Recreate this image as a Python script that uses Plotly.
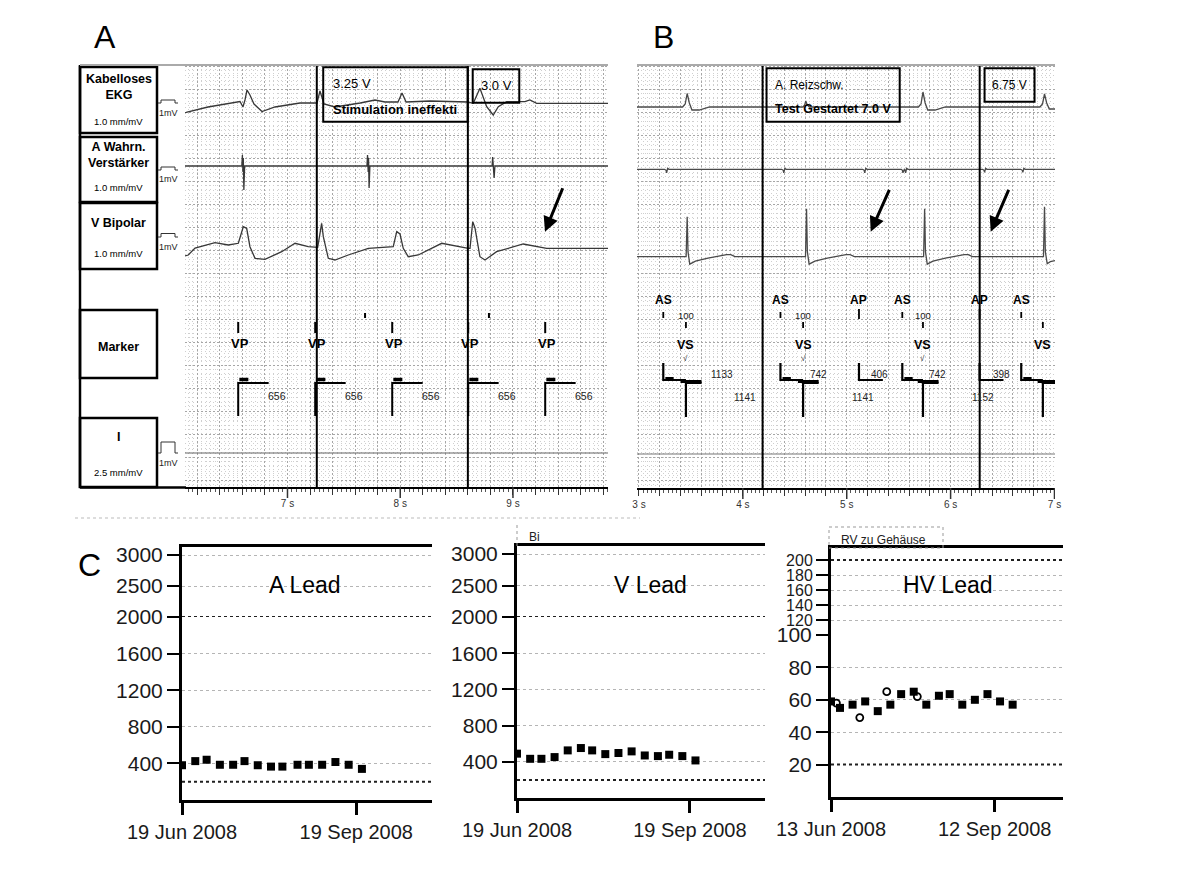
import plotly.graph_objects as go

W, H = 1181, 886
FONT = "Arial, Liberation Sans, sans-serif"

# ======================= DATA =======================
# ---- Panel A strip (time in s, amplitude in strip units, + = upward)
a_time_range = [6.091, 9.843]
a_ekg_t = [6.091, 6.11, 6.295, 6.508, 6.579, 6.605, 6.623, 6.641, 6.667, 6.703, 6.774, 6.889, 7.111,
           7.262, 7.288, 7.324, 7.421, 7.645, 7.776, 7.865, 7.98, 8.016, 8.052, 8.264, 8.60, 8.648,
           8.707, 8.767, 8.825, 8.87, 8.944, 9.106, 9.15, 9.21, 9.843]
a_ekg_v = [-9, -8, -3, 1.3, 2.5, -3, 4, 14, 9, 0, -7.5, -3, 1,
           1, 13, 0, -3, 1, 4, 2, 2, 11, 2, 3, 2, 0.7,
           15.7, -2.7, -11, -2.7, 2.3, 2.3, 4, 0.7, 0.7]
a_atr_t = [6.091, 6.595, 6.600, 6.605, 6.608, 6.613, 6.62, 7.705, 7.71, 7.716, 7.719, 7.724, 7.731,
           8.815, 8.82, 8.825, 8.828, 8.833, 8.84, 9.843]
a_atr_v = [0, 0, 11, -6, 8, -24, 0, 0, 11, -6, 8, -22, 0,
           0, 9, -4, 5, -12, 0, 0]
a_vent_t = [6.091, 6.12, 6.18, 6.357, 6.475, 6.564, 6.608, 6.638, 6.667, 6.712, 6.8, 6.949, 7.067,
            7.184, 7.268, 7.303, 7.318, 7.362, 7.421, 7.539, 7.717, 7.938, 7.969, 7.998, 8.027,
            8.071, 8.16, 8.368, 8.604, 8.619, 8.643, 8.663, 8.707, 8.752, 8.855, 9.091, 9.299, 9.843]
a_vent_v = [-8, -7, 0, 5.3, 3, 4.7, 21.3, 19.7, 1.3, -10.3, -11.3, -3.7, 4.7,
            1.3, 0.7, 24.7, 11.3, -10.3, -12, -7, -0.3, 1.3, 16.3, 14, -0.3,
            -8.7, -7, 4.7, -0.3, -0.3, 26.3, 20, -8.7, -12, -3.7, 4, -0.3, -0.3]
a_lead1_t = [6.091, 9.843]
a_lead1_v = [0, 0]
a_threshold_times = [7.26, 8.60]
a_vp_times = [6.563, 7.246, 7.929, 8.603, 9.286]
a_vp_labels = ["VP", "VP", "VP", "VP", "VP"]
a_vp_intervals = ["656", "656", "656", "656", "656"]
a_small_mark_times = [7.688, 8.787]
a_channel_names = ["<b>Kabelloses<br>EKG</b>", "<b>A Wahrn.<br>Verstärker</b>", "<b>V Bipolar</b>",
                   "<b>Marker</b>", "<b>I</b>"]
a_channel_gain = ["1.0 mm/mV", "1.0 mm/mV", "1.0 mm/mV", "", "2.5 mm/mV"]
a_box_texts = [["3.25 V", "<b>Stimulation ineffekti</b>"], ["3.0 V"]]

# ---- Panel B strip
b_time_range = [2.981, 7.005]
b_ekg_t = [2.981, 3.42, 3.445, 3.464, 3.485, 3.51, 3.58, 3.64, 3.68,
           4.58, 4.595, 4.606, 4.62, 4.64,
           5.69, 5.715, 5.734, 5.755, 5.78, 5.85, 5.91, 5.95,
           6.86, 6.885, 6.904, 6.925, 6.95, 7.005]
b_ekg_v = [0, 0, 3, 13.5, 4, -3, -3, -1.5, 0,
           0, 2, 6, 2, 0,
           0, 3, 15, 4, -3, -3, -1.5, 0,
           0, 3, 13, 4, -2, -2]
b_atr_t = [2.981,
           3.246, 3.261, 3.266, 3.276, 3.29,
           4.374, 4.389, 4.394, 4.404, 4.418,
           5.153, 5.168, 5.173, 5.183, 5.197,
           5.525, 5.536, 5.541, 5.551, 5.557, 5.567, 5.577, 5.59,
           6.307, 6.322, 6.327, 6.337, 6.351,
           6.675, 6.69, 6.695, 6.705, 6.719,
           7.005]
b_atr_v = [0,
           0, -1, -3.5, 1, 0,
           0, -1, -3.5, 1, 0,
           0, -1, -3.5, 1, 0,
           0, -1, -3.5, 0.5, 0.5, -3.5, 1, 0,
           0, -1, -3, 1, 0,
           0, -1, -3, 1, 0,
           0]
b_vent_t = [2.981,
            3.454, 3.464, 3.472, 3.489, 3.544, 3.664, 3.844, 3.884, 3.924,
            4.603, 4.613, 4.621, 4.638, 4.693, 4.813, 4.993, 5.033, 5.073,
            5.74, 5.75, 5.758, 5.775, 5.83, 5.95, 6.13, 6.17, 6.21,
            6.894, 6.904, 6.912, 6.93, 6.96, 7.005]
b_vent_v = [0,
            0, 40, 5, -7.5, -4.5, -1.5, 2, 2, 0,
            0, 48, 5, -7.5, -4.5, -1.5, 2, 2, 0,
            0, 48, 5, -7.5, -4.5, -1.5, 2, 2, 0,
            0, 50, 5, -7, -5, -4]
b_lead1_t = [2.981, 7.005]
b_lead1_v = [0, 0]
b_threshold_times = [4.19, 6.28]
b_as_times = [3.234, 4.362, 5.535, 6.68]
b_vs_times = [3.452, 4.58, 5.734, 6.888]
b_ap_times = [5.118, 6.279]
b_av_delay = ["100", "100", "100"]
b_upper_labels = ["1133", "742", "406", "742", "398"]
b_upper_times = [3.795, 4.724, 5.317, 5.878, 6.488]
b_lower_labels = ["1141", "1141", "1152"]
b_lower_times = [4.02, 5.157, 6.31]
b_box_texts = [["A. Reizschw.", "<b>Test Gestartet 7.0 V</b>"], ["6.75 V"]]

# ---- Panel C trends
c_a_dates = ["2008-06-19", "2008-06-26", "2008-07-02", "2008-07-09", "2008-07-16", "2008-07-22",
             "2008-07-29", "2008-08-05", "2008-08-11", "2008-08-19", "2008-08-25", "2008-09-01",
             "2008-09-08", "2008-09-15", "2008-09-22"]
c_a_vals = [380, 425, 440, 385, 385, 425, 380, 365, 365, 385, 385, 385, 415, 385, 340]
c_v_dates = ["2008-06-19", "2008-06-26", "2008-07-02", "2008-07-09", "2008-07-16", "2008-07-23",
             "2008-07-29", "2008-08-05", "2008-08-12", "2008-08-19", "2008-08-26", "2008-09-02",
             "2008-09-08", "2008-09-15", "2008-09-22"]
c_v_vals = [490, 433, 433, 452, 526, 552, 526, 485, 497, 515, 470, 463, 478, 463, 415]
c_hv_dates = ["2008-06-13", "2008-06-18", "2008-06-25", "2008-07-02", "2008-07-09", "2008-07-16",
              "2008-07-22", "2008-07-29", "2008-08-05", "2008-08-12", "2008-08-18", "2008-08-25",
              "2008-09-01", "2008-09-08", "2008-09-15", "2008-09-22"]
c_hv_vals = [59, 55, 57, 59, 53, 57, 63.5, 65, 57, 62.5, 63.5, 57, 60, 63.5, 59, 57]
c_hv_open_dates = ["2008-06-16", "2008-06-29", "2008-07-14", "2008-07-31"]
c_hv_open_vals = [58, 49, 65, 62]
c_titles = ["A Lead", "V Lead", "HV Lead"]
c_lo_ticks = [[400, 800, 1200, 1600, 2000], [400, 800, 1200, 1600, 2000], [20, 40, 60, 80, 100]]
c_hi_ticks = [[2500, 3000], [2500, 3000], [120, 140, 160, 180, 200]]
c_limit_lines = [[200, 2000], [200, 2000], [20, 200]]
c_x_ticks = [["2008-06-19", "2008-09-19"], ["2008-06-19", "2008-09-19"], ["2008-06-13", "2008-09-12"]]
c_x_ticktext = [["19 Jun 2008", "19 Sep 2008"], ["19 Jun 2008", "19 Sep 2008"], ["13 Jun 2008", "12 Sep 2008"]]

# ======================= LAYOUT HELPERS =======================
def px(x):
    return x / W


def py(y):
    return 1 - y / H


A_BASE = dict(ekg=39, atr=101, vent=183, lead1=388)
B_BASE = dict(ekg=42, atr=104.3, vent=191.7, lead1=389)
TRACE_COLOR = "#383838"

fig = go.Figure()
shapes = []
anns = []


def strip(t, v, base, ax, ay, color=TRACE_COLOR, w=1.3):
    fig.add_trace(go.Scatter(x=t, y=[base - a for a in v], mode="lines", xaxis=ax, yaxis=ay,
                             line=dict(color=color, width=w), hoverinfo="skip", showlegend=False))


def segs(xs, ys, ax, ay, w=2, color="black"):
    fig.add_trace(go.Scatter(x=xs, y=ys, mode="lines", xaxis=ax, yaxis=ay,
                             line=dict(color=color, width=w), hoverinfo="skip", showlegend=False,
                             connectgaps=False))


def dtext(x, y, text, size, xref, yref, xanchor="center", color="black"):
    anns.append(dict(x=x, y=y, xref=xref, yref=yref, text=text, showarrow=False, xanchor=xanchor,
                     yanchor="middle", font=dict(family=FONT, size=size, color=color)))


def ptext(x, y, text, size, xanchor="center", color="black"):
    dtext(px(x), py(y), text, size, "paper", "paper", xanchor, color)


def prect(x0, y0, x1, y1, w=2, color="black", dash=None):
    shapes.append(dict(type="rect", xref="paper", yref="paper", x0=px(x0), x1=px(x1),
                       y0=py(y1), y1=py(y0), line=dict(color=color, width=w, dash=dash)))


def pline(x0, y0, x1, y1, w=2, color="black", dash=None):
    shapes.append(dict(type="line", xref="paper", yref="paper", x0=px(x0), x1=px(x1),
                       y0=py(y0), y1=py(y1), line=dict(color=color, width=w, dash=dash)))


def ecg_axes(domain_x, domain_y, rng, ymax, anchor_x, anchor_y):
    k0 = int(rng[0] / 0.2) + 1
    k1 = int(rng[1] / 0.2 + 1e-6)
    tv = [round(k * 0.2, 2) for k in range(k0, k1 + 1)]
    tt = [f"{int(round(v))} s" if abs(v - round(v)) < 1e-6 else "" for v in tv]
    xa = dict(domain=domain_x, range=rng, anchor=anchor_y, tickmode="array", tickvals=tv, ticktext=tt,
              ticks="outside", ticklen=6, tickwidth=1, tickcolor="#333", showline=True, linecolor="black",
              linewidth=2, showgrid=True, gridcolor="#a6a6a6", griddash="2px,2px", gridwidth=1,
              zeroline=False, automargin=False, tickfont=dict(family=FONT, size=10, color="#333"),
              minor=dict(tickmode="linear", tick0=0, dtick=0.04, ticks="outside", ticklen=3,
                         tickcolor="#555", showgrid=True, gridcolor="#cfcfcf", griddash="1px,3px"))
    ya = dict(domain=domain_y, range=[ymax, 0], anchor=anchor_x, showticklabels=False, ticks="",
              tickmode="linear", tick0=24.3, dtick=23, showgrid=True, gridcolor="#a6a6a6",
              griddash="2px,2px", zeroline=False, showline=False, automargin=False,
              minor=dict(tickmode="linear", tick0=24.3, dtick=4.6, showgrid=True,
                         gridcolor="#cfcfcf", griddash="1px,3px"))
    return xa, ya


# ---------------- Panel A ----------------
xa, ya = ecg_axes([px(185), px(608)], [py(487), py(65)], a_time_range, 422, "x", "y")
strip(a_ekg_t, a_ekg_v, A_BASE["ekg"], "x", "y")
strip(a_atr_t, a_atr_v, A_BASE["atr"], "x", "y")
strip(a_vent_t, a_vent_v, A_BASE["vent"], "x", "y")
strip(a_lead1_t, a_lead1_v, A_BASE["lead1"], "x", "y", color="#666", w=1.2)

mx, my = [], []
for t in a_vp_times:
    mx += [t, t, None, t + 0.27, t, t, None]
    my += [257, 268, None, 318, 318, 351, None]
for t in a_small_mark_times:
    mx += [t, t, None]
    my += [248, 253, None]
segs(mx, my, "x", "y", w=2)
bx, by = [], []
for t in a_vp_times:
    bx += [t + 0.01, t + 0.09, None]
    by += [314.5, 314.5, None]
segs(bx, by, "x", "y", w=3.5)
for t, lab, iv in zip(a_vp_times, a_vp_labels, a_vp_intervals):
    dtext(t + 0.02, 278, f"<b>{lab}</b>", 13, "x", "y")
    dtext(t + 0.34, 331, iv, 10.5, "x", "y", color="#222")

for t in a_threshold_times:
    shapes.append(dict(type="line", xref="x", yref="y domain", x0=t, x1=t, y0=0, y1=1,
                       line=dict(color="black", width=2)))
# threshold boxes
shapes.append(dict(type="rect", xref="x", yref="y", x0=7.317, x1=8.598, y0=2.3, y1=56.7,
                   line=dict(color="black", width=2)))
dtext(7.385, 18, a_box_texts[0][0], 13, "x", "y", xanchor="left")
dtext(7.385, 44, a_box_texts[0][1], 13, "x", "y", xanchor="left")
shapes.append(dict(type="rect", xref="x", yref="y", x0=8.643, x1=9.056, y0=4.3, y1=37.7,
                   line=dict(color="black", width=2)))
dtext(8.85, 20, a_box_texts[1][0], 13, "x", "y")

# left channel label boxes
box_rows = [(67, 133, 87, 121.7), (137, 202, 155, 188), (203, 269, 223, 254), (310, 378, 346.7, None),
            (418, 487, 436.7, 472.7)]
for (y0, y1, yt, yg), name, gain in zip(box_rows, a_channel_names, a_channel_gain):
    prect(80, y0, 157, y1, w=2.5)
    ptext(118.5, yt, name, 12.5)
    if gain:
        ptext(118.5, yg, gain, 9.5)
pline(80, 65, 80, 488, w=2.5)
pline(80, 487.5, 186, 487.5, w=2.5)
pline(80, 65, 608, 65, w=2, color="#aaaaaa")
# 1 mV calibration pulses
for base_y, h, ty in [(103, 3, 113), (170, 3, 179), (237, 3.5, 246.7), (453, 11, 462.7)]:
    path = (f"M {px(158)},{py(base_y)} L {px(161)},{py(base_y)} L {px(161)},{py(base_y - h)} "
            f"L {px(175)},{py(base_y - h)} L {px(175)},{py(base_y)} L {px(178)},{py(base_y)}")
    shapes.append(dict(type="path", xref="paper", yref="paper", path=path,
                       line=dict(color="#333", width=1)))
    ptext(168, ty, "1mV", 9, color="#222")
# long integer-second ticks
for s in [7, 8, 9]:
    shapes.append(dict(type="line", xref="x", yref="paper", x0=s, x1=s, y0=py(487), y1=py(498),
                       line=dict(color="#333", width=1.5)))
pline(75, 518, 640, 518, w=1, color="#bbbbbb", dash="dot")

# ---------------- Panel B ----------------
xb, yb = ecg_axes([px(637), px(1055)], [py(488), py(65)], b_time_range, 423, "x2", "y2")
strip(b_ekg_t, b_ekg_v, B_BASE["ekg"], "x2", "y2", color="#4a4a4a")
strip(b_atr_t, b_atr_v, B_BASE["atr"], "x2", "y2", color="#4a4a4a")
strip(b_vent_t, b_vent_v, B_BASE["vent"], "x2", "y2", color="#4a4a4a")
strip(b_lead1_t, b_lead1_v, B_BASE["lead1"], "x2", "y2", color="#777", w=1.2)

mx, my = [], []
for t in b_as_times:
    mx += [t, t, None]
    my += [247, 253, None]
for t in b_vs_times:
    mx += [t, t, None]
    my += [257, 263, None]
for t in b_ap_times:
    mx += [t, t, None]
    my += [244, 254, None]
segs(mx, my, "x2", "y2", w=1.8)
lx, ly = [], []
for ta, tv in zip(b_as_times, b_vs_times):
    lx += [ta, ta, tv, None]
    ly += [298, 315, 315, None]
for tv in b_vs_times:
    lx += [tv + 0.15, tv, tv, None]
    ly += [318, 318, 352, None]
for t in b_ap_times:
    lx += [t, t, t + 0.23, None]
    ly += [298, 315, 315, None]
segs(lx, ly, "x2", "y2", w=2.2)
bx, by = [], []
for ta, tv in zip(b_as_times, b_vs_times):
    bx += [ta + 0.02, ta + 0.1, None, tv - 0.05, tv + 0.15, None]
    by += [313.5, 313.5, None, 316.5, 316.5, None]
segs(bx, by, "x2", "y2", w=3)
for t in b_as_times:
    dtext(t, 235, "<b>AS</b>", 12, "x2", "y2")
for t in b_ap_times:
    dtext(t, 235, "<b>AP</b>", 12, "x2", "y2")
for i, t in enumerate(b_vs_times):
    dtext(t, 280, "<b>VS</b>", 12.5, "x2", "y2")
    if i < len(b_av_delay):
        dtext(t, 250, b_av_delay[i], 9.5, "x2", "y2", color="#222")
        dtext(t, 293, "√", 8, "x2", "y2", color="#222")
for t, lab in zip(b_upper_times, b_upper_labels):
    dtext(t, 309, lab, 10, "x2", "y2", color="#222")
for t, lab in zip(b_lower_times, b_lower_labels):
    dtext(t, 332, lab, 10, "x2", "y2", color="#222")
for t in b_threshold_times:
    shapes.append(dict(type="line", xref="x2", yref="y2 domain", x0=t, x1=t, y0=0, y1=1,
                       line=dict(color="black", width=2)))
shapes.append(dict(type="rect", xref="x2", yref="y2", x0=4.228, x1=5.51, y0=3.3, y1=56.7,
                   line=dict(color="black", width=2)))
dtext(4.29, 20, b_box_texts[0][0], 12, "x2", "y2", xanchor="left")
dtext(4.29, 44, b_box_texts[0][1], 12.5, "x2", "y2", xanchor="left")
shapes.append(dict(type="rect", xref="x2", yref="y2", x0=6.327, x1=6.808, y0=3.3, y1=36.7,
                   line=dict(color="black", width=2)))
dtext(6.568, 20, b_box_texts[1][0], 12, "x2", "y2")
pline(637, 65, 1055, 65, w=2, color="#aaaaaa")
for s in [4, 5, 6, 7]:
    shapes.append(dict(type="line", xref="x2", yref="paper", x0=s, x1=s, y0=py(488), y1=py(499),
                       line=dict(color="#333", width=1.5)))

# arrows
for hx, hy, dx, dy in [(545, 231.7, 18.3, -45), (870.7, 231.7, 19.3, -43.4), (990.7, 231.7, 18.6, -43.4)]:
    anns.append(dict(x=px(hx), y=py(hy), xref="paper", yref="paper", ax=dx, ay=dy, text="",
                     showarrow=True, arrowhead=2, arrowsize=1, arrowwidth=3, arrowcolor="black",
                     standoff=0))

# ---------------- Panel C ----------------
layout_axes = {"xaxis": xa, "yaxis": ya, "xaxis2": xb, "yaxis2": yb}
c_geom = [  # x0, x1, y_bottom, y_break, y_top, lo range, hi range, x range
    (182, 432, 800, 617, 547, [0, 2000], [2000, 3129], ["2008-06-19", "2008-10-29"]),
    (517, 765, 798, 617, 546, [0, 2000], [2000, 3129], ["2008-06-19", "2008-10-29"]),
    (831, 1063, 797, 635, 548, [0, 100], [100, 216], ["2008-06-13", "2008-10-20"]),
]
hi_font = [21, 21, 16]
series = [(c_a_dates, c_a_vals), (c_v_dates, c_v_vals), (c_hv_dates, c_hv_vals)]
title_pos = [(305, 585), (650, 585), (948, 585)]
for i, (x0, x1, yb0, ybr, yt, lo, hi, xr) in enumerate(c_geom):
    nlo, nhi = 3 + 2 * i, 4 + 2 * i
    xl, yl, xh, yh = f"xaxis{nlo}", f"yaxis{nlo}", f"xaxis{nhi}", f"yaxis{nhi}"
    common_y = dict(ticks="outside", ticklen=12, tickwidth=2, tickcolor="black", showline=True,
                    linecolor="black", linewidth=3, showgrid=True, gridcolor="#b5b5b5",
                    griddash="dot", gridwidth=1, zeroline=False, automargin=False)
    layout_axes[xl] = dict(domain=[px(x0), px(x1)], anchor=f"y{nlo}", type="date", range=xr,
                           tickmode="array", tickvals=c_x_ticks[i], ticktext=c_x_ticktext[i],
                           ticks="outside", ticklen=12, tickwidth=2.5, tickcolor="black",
                           showline=True, linecolor="black", linewidth=3, showgrid=False,
                           zeroline=False, automargin=False,
                           tickfont=dict(family=FONT, size=20, color="#1a1a1a"))
    layout_axes[xh] = dict(domain=[px(x0), px(x1)], anchor=f"y{nhi}", type="date", range=xr,
                           side="top", showline=True, linecolor="black", linewidth=3,
                           showticklabels=False, ticks="", showgrid=False, zeroline=False,
                           automargin=False)
    layout_axes[yl] = dict(domain=[py(yb0), py(ybr)], anchor=f"x{nlo}", range=lo, tickmode="array",
                           tickvals=c_lo_ticks[i], tickfont=dict(family=FONT, size=21, color="#1a1a1a"),
                           **common_y)
    layout_axes[yh] = dict(domain=[py(ybr), py(yt)], anchor=f"x{nhi}", range=hi, tickmode="array",
                           tickvals=c_hi_ticks[i],
                           tickfont=dict(family=FONT, size=hi_font[i], color="#1a1a1a"), **common_y)
    d, v = series[i]
    fig.add_trace(go.Scatter(x=d, y=v, mode="markers", xaxis=f"x{nlo}", yaxis=f"y{nlo}",
                             marker=dict(symbol="square", size=8, color="black"),
                             hoverinfo="skip", showlegend=False))
    for j, lim in enumerate(c_limit_lines[i]):
        in_lo = lim <= lo[1] and j == 0
        yref = f"y{nlo}" if in_lo else f"y{nhi}"
        xref = f"x{nlo} domain" if in_lo else f"x{nhi} domain"
        shapes.append(dict(type="line", xref=xref, yref=yref, x0=0, x1=1, y0=lim, y1=lim,
                           line=dict(color="#202020", width=2, dash="dot")))
    ptext(title_pos[i][0], title_pos[i][1], c_titles[i], 23)

fig.add_trace(go.Scatter(x=c_hv_open_dates, y=c_hv_open_vals, mode="markers", xaxis="x7", yaxis="y7",
                         marker=dict(symbol="circle-open", size=7, color="black", line=dict(width=1.8)),
                         hoverinfo="skip", showlegend=False))

# small header labels above trend plots
ptext(527, 537, "Bi", 12, xanchor="left", color="#222")
pline(517, 525, 517, 546, w=1, color="#999", dash="dot")
ptext(839, 540, "RV zu Gehäuse", 12, xanchor="left", color="#222")
prect(829, 527, 943, 548, w=1, color="#999", dash="dot")

# panel letters
ptext(105, 37, "A", 32)
ptext(663, 37, "B", 32)
ptext(89, 565, "C", 32)

fig.update_layout(width=W, height=H, margin=dict(l=0, r=0, t=0, b=0, autoexpand=False),
                  paper_bgcolor="white", plot_bgcolor="white", showlegend=False, shapes=shapes,
                  annotations=anns, font=dict(family=FONT), **layout_axes)

fig.write_html("out.html", config={"displayModeBar": False},
               post_script="document.body.style.margin='0px';")
